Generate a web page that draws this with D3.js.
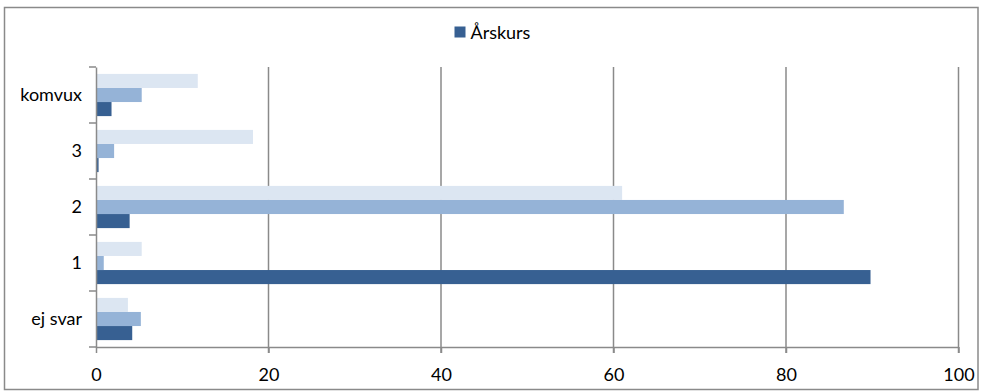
<!DOCTYPE html>
<html><head><meta charset="utf-8">
<script src="https://cdn.jsdelivr.net/npm/d3@7"></script>
<style>body{margin:0;background:#fff}svg{display:block}text{font-family:Lato,"Open Sans",sans-serif;fill:#000}</style>
</head><body><svg id="c" width="984" height="392"></svg>
<script>
const categories = ["ej svar", "1", "2", "3", "komvux"];
const seriesNames = ["Årskurs", "Serie 2", "Serie 3"];
const dark = [4.2, 89.8, 3.9, 0.3, 1.8];
const mid = [5.2, 0.9, 86.7, 2.1, 5.3];
const light = [3.7, 5.3, 61.0, 18.2, 11.8];
const xTicks = [0, 20, 40, 60, 80, 100];
const colors = ["#376092", "#95b3d7", "#dce6f2"];

const FS = "18px";
const series = [dark, mid, light];
const svg = d3.select("#c");
svg.append("rect").attr("x", 4.5).attr("y", 7.5).attr("width", 973.5).attr("height", 382)
  .attr("fill", "#fff").attr("stroke", "#8a8a8a").attr("stroke-width", 1.5);

const L = 96, R = 958.5, T = 67, B = 347;
const x = d3.scaleLinear().domain([0, 100]).range([L, R]);
const y = d3.scaleBand().domain(categories.slice().reverse()).range([T, B]).paddingInner(0).paddingOuter(0);
const inner = d3.scaleBand().domain([2, 1, 0]).range([0, y.bandwidth()]).paddingInner(0).paddingOuter(0.49);

// gridlines
svg.append("g").selectAll("line").data(xTicks.slice(1)).join("line")
  .attr("x1", d => x(d)).attr("x2", d => x(d)).attr("y1", T).attr("y2", B + 6)
  .attr("stroke", "#8a8a8a").attr("stroke-width", 1.5);

// bars
series.forEach((vals, si) => {
  svg.append("g").selectAll("rect").data(vals).join("rect")
    .attr("x", x(0))
    .attr("y", (d, i) => y(categories[i]) + inner(si))
    .attr("width", d => x(d) - x(0))
    .attr("height", inner.bandwidth())
    .attr("fill", colors[si]);
});

// x axis
const xa = svg.append("g").attr("transform", `translate(0,${B})`)
  .call(d3.axisBottom(x).tickValues(xTicks).tickSize(6).tickSizeOuter(0));
xa.select(".domain").attr("stroke", "#8a8a8a").attr("stroke-width", 1.5);
xa.selectAll(".tick line").attr("stroke", "#8a8a8a").attr("stroke-width", 1.5);
xa.selectAll(".tick text").attr("dy", "0").attr("y", 34).style("font-size", FS)
  .style("font-family", "Lato, 'Open Sans', sans-serif").attr("fill", "#000");

// y axis
const ya = svg.append("g").attr("transform", `translate(${L},0)`)
  .call(d3.axisLeft(y).tickSize(0).tickPadding(14).tickSizeOuter(0));
ya.select(".domain").attr("stroke", "#8a8a8a").attr("stroke-width", 1.5);
ya.selectAll(".tick text").style("font-size", FS)
  .style("font-family", "Lato, 'Open Sans', sans-serif").attr("fill", "#000");
// category boundary ticks
const bounds = categories.map(c => y(c)).concat([B]);
svg.append("g").selectAll("line").data(bounds).join("line")
  .attr("x1", L - 7).attr("x2", L).attr("y1", d => d).attr("y2", d => d)
  .attr("stroke", "#8a8a8a").attr("stroke-width", 1.5);

// legend
const lg = svg.append("g");
lg.append("rect").attr("x", 454.5).attr("y", 26.5).attr("width", 11).attr("height", 11).attr("fill", colors[0]);
lg.append("text").attr("x", 470.5).attr("y", 38.5).style("font-size", FS).text(seriesNames[0]);
</script></body></html>
